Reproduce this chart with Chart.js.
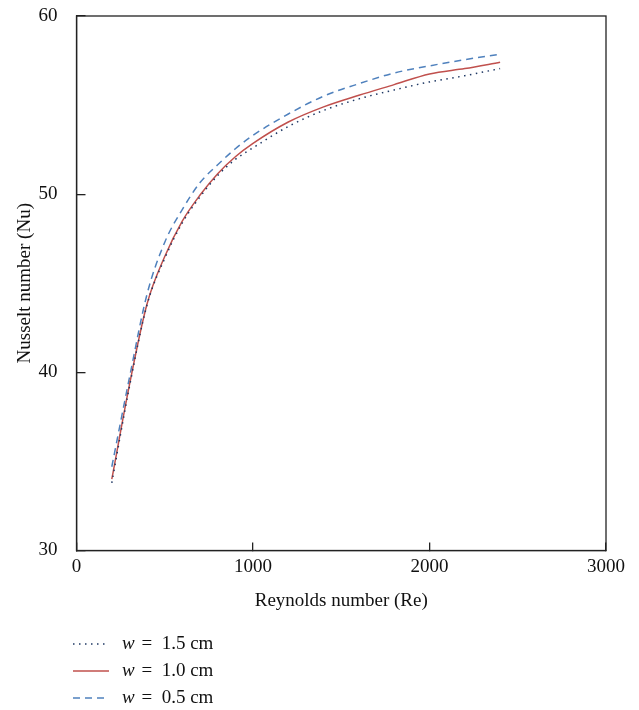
<!DOCTYPE html>
<html>
<head>
<meta charset="utf-8">
<script src="https://cdn.jsdelivr.net/npm/chart.js@4.4.1/dist/chart.umd.min.js"></script>
<style>
  html, body { margin: 0; padding: 0; background: #fff; }
  #wrap { width: 639px; height: 710px; position: relative; }
</style>
</head>
<body>
<div id="wrap"><canvas id="nu-chart" width="639" height="710"></canvas></div>
<script>
// Reynolds number (x)
const reynolds = [200, 300, 400, 500, 600, 700, 800, 900, 1000, 1200, 1400, 1600, 1800, 2000, 2200, 2400];

// Nusselt number per channel width
const nuW15 = [33.8, 39.2, 43.8, 46.4, 48.4, 49.85, 51.05, 51.95, 52.6, 53.8, 54.7, 55.35, 55.85, 56.3, 56.65, 57.05];
const nuW10 = [34.0, 39.3, 43.85, 46.5, 48.5, 49.95, 51.15, 52.1, 52.85, 54.05, 54.9, 55.55, 56.15, 56.75, 57.05, 57.4];
const nuW05 = [34.7, 39.7, 44.4, 47.3, 49.15, 50.65, 51.65, 52.55, 53.3, 54.5, 55.5, 56.2, 56.8, 57.2, 57.55, 57.85];

const xTicks = [0, 1000, 2000, 3000];
const seriesLabels = ['1.5 cm', '1.0 cm', '0.5 cm'];

const SERIF = '"Liberation Serif", "DejaVu Serif", serif';
const AXIS_COLOR = '#222';

function toPoints(values) {
    return reynolds.map((re, i) => ({ x: re, y: values[i] }));
}

// cadre complet autour de la zone du graphique
const frameBox = {
    id: 'frameBox',
    afterDraw(chart) {
        const { ctx, chartArea } = chart;
        ctx.save();
        ctx.strokeStyle = AXIS_COLOR;
        ctx.lineWidth = 1.3;
        ctx.strokeRect(chartArea.left, chartArea.top, chartArea.right - chartArea.left, chartArea.bottom - chartArea.top);
        ctx.restore();
    }
};

// légende en bas à gauche, w en italique
const bottomLegend = {
    id: 'bottomLegend',
    afterDraw(chart) {
        const ctx = chart.ctx;
        const rows = [644, 671, 698];
        ctx.save();
        chart.data.datasets.forEach((ds, i) => {
            const y = rows[i];
            ctx.strokeStyle = ds.borderColor;
            ctx.lineWidth = ds.borderWidth;
            ctx.setLineDash(ds.borderDash || []);
            ctx.beginPath();
            ctx.moveTo(73, y);
            ctx.lineTo(109, y);
            ctx.stroke();
            ctx.setLineDash([]);

            ctx.fillStyle = '#111';
            ctx.textBaseline = 'middle';
            ctx.font = 'italic 19px ' + SERIF;
            ctx.fillText('w', 122, y);
            const wWidth = ctx.measureText('w').width;
            ctx.font = '19px ' + SERIF;
            ctx.fillText(' =  ' + seriesLabels[i], 122 + wWidth + 2, y);
        });
        ctx.restore();
    }
};

const ctx = document.getElementById('nu-chart').getContext('2d');

const chart = new Chart(ctx, {
    type: 'line',
    data: {
        datasets: [
            {
                label: 'w = 1.5 cm',
                data: toPoints(nuW15),
                borderColor: '#1f3864',
                borderWidth: 1.5,
                borderDash: [1.5, 4.5],
                pointRadius: 0,
                cubicInterpolationMode: 'monotone',
                fill: false
            },
            {
                label: 'w = 1.0 cm',
                data: toPoints(nuW10),
                borderColor: '#c0504d',
                borderWidth: 1.5,
                pointRadius: 0,
                cubicInterpolationMode: 'monotone',
                fill: false
            },
            {
                label: 'w = 0.5 cm',
                data: toPoints(nuW05),
                borderColor: '#4f81bd',
                borderWidth: 1.5,
                borderDash: [7, 5],
                pointRadius: 0,
                cubicInterpolationMode: 'monotone',
                fill: false
            }
        ]
    },
    options: {
        responsive: false,
        animation: false,
        devicePixelRatio: 1,
        layout: {
            autoPadding: false,
            padding: { top: 16, right: 33, left: 0, bottom: 98 }
        },
        plugins: {
            legend: { display: false },
            tooltip: { enabled: false }
        },
        scales: {
            x: {
                type: 'linear',
                min: 0,
                max: 3000,
                afterBuildTicks(scale) {
                    scale.ticks = xTicks.map(v => ({ value: v }));
                },
                ticks: {
                    color: '#111',
                    padding: 13,
                    maxRotation: 0,
                    font: { family: SERIF, size: 19 },
                    callback: value => String(value)
                },
                grid: {
                    display: true,
                    drawOnChartArea: false,
                    drawTicks: true,
                    tickLength: -8,
                    color: AXIS_COLOR,
                    lineWidth: 1.3
                },
                border: { display: true, color: AXIS_COLOR, width: 1.3 },
                title: {
                    display: true,
                    text: 'Reynolds number (Re)',
                    color: '#111',
                    padding: 0,
                    font: { family: SERIF, size: 19 }
                },
                afterFit(scale) {
                    scale.height = 61.5;
                    scale.paddingLeft = 0;
                    scale.paddingRight = 0;
                }
            },
            y: {
                type: 'linear',
                min: 30,
                max: 60,
                ticks: {
                    stepSize: 10,
                    color: '#111',
                    padding: 28,
                    font: { family: SERIF, size: 19 }
                },
                grid: {
                    display: true,
                    drawOnChartArea: false,
                    drawTicks: true,
                    tickLength: -9,
                    color: AXIS_COLOR,
                    lineWidth: 1.3
                },
                border: { display: true, color: AXIS_COLOR, width: 1.3 },
                title: {
                    display: true,
                    text: 'Nusselt number (Nu)',
                    color: '#111',
                    padding: { top: 14, bottom: 0 },
                    font: { family: SERIF, size: 19 }
                },
                afterFit(scale) {
                    scale.width = 76.5;
                    scale.paddingTop = 0;
                    scale.paddingBottom = 0;
                }
            }
        }
    },
    plugins: [frameBox, bottomLegend]
});
</script>
</body>
</html>
